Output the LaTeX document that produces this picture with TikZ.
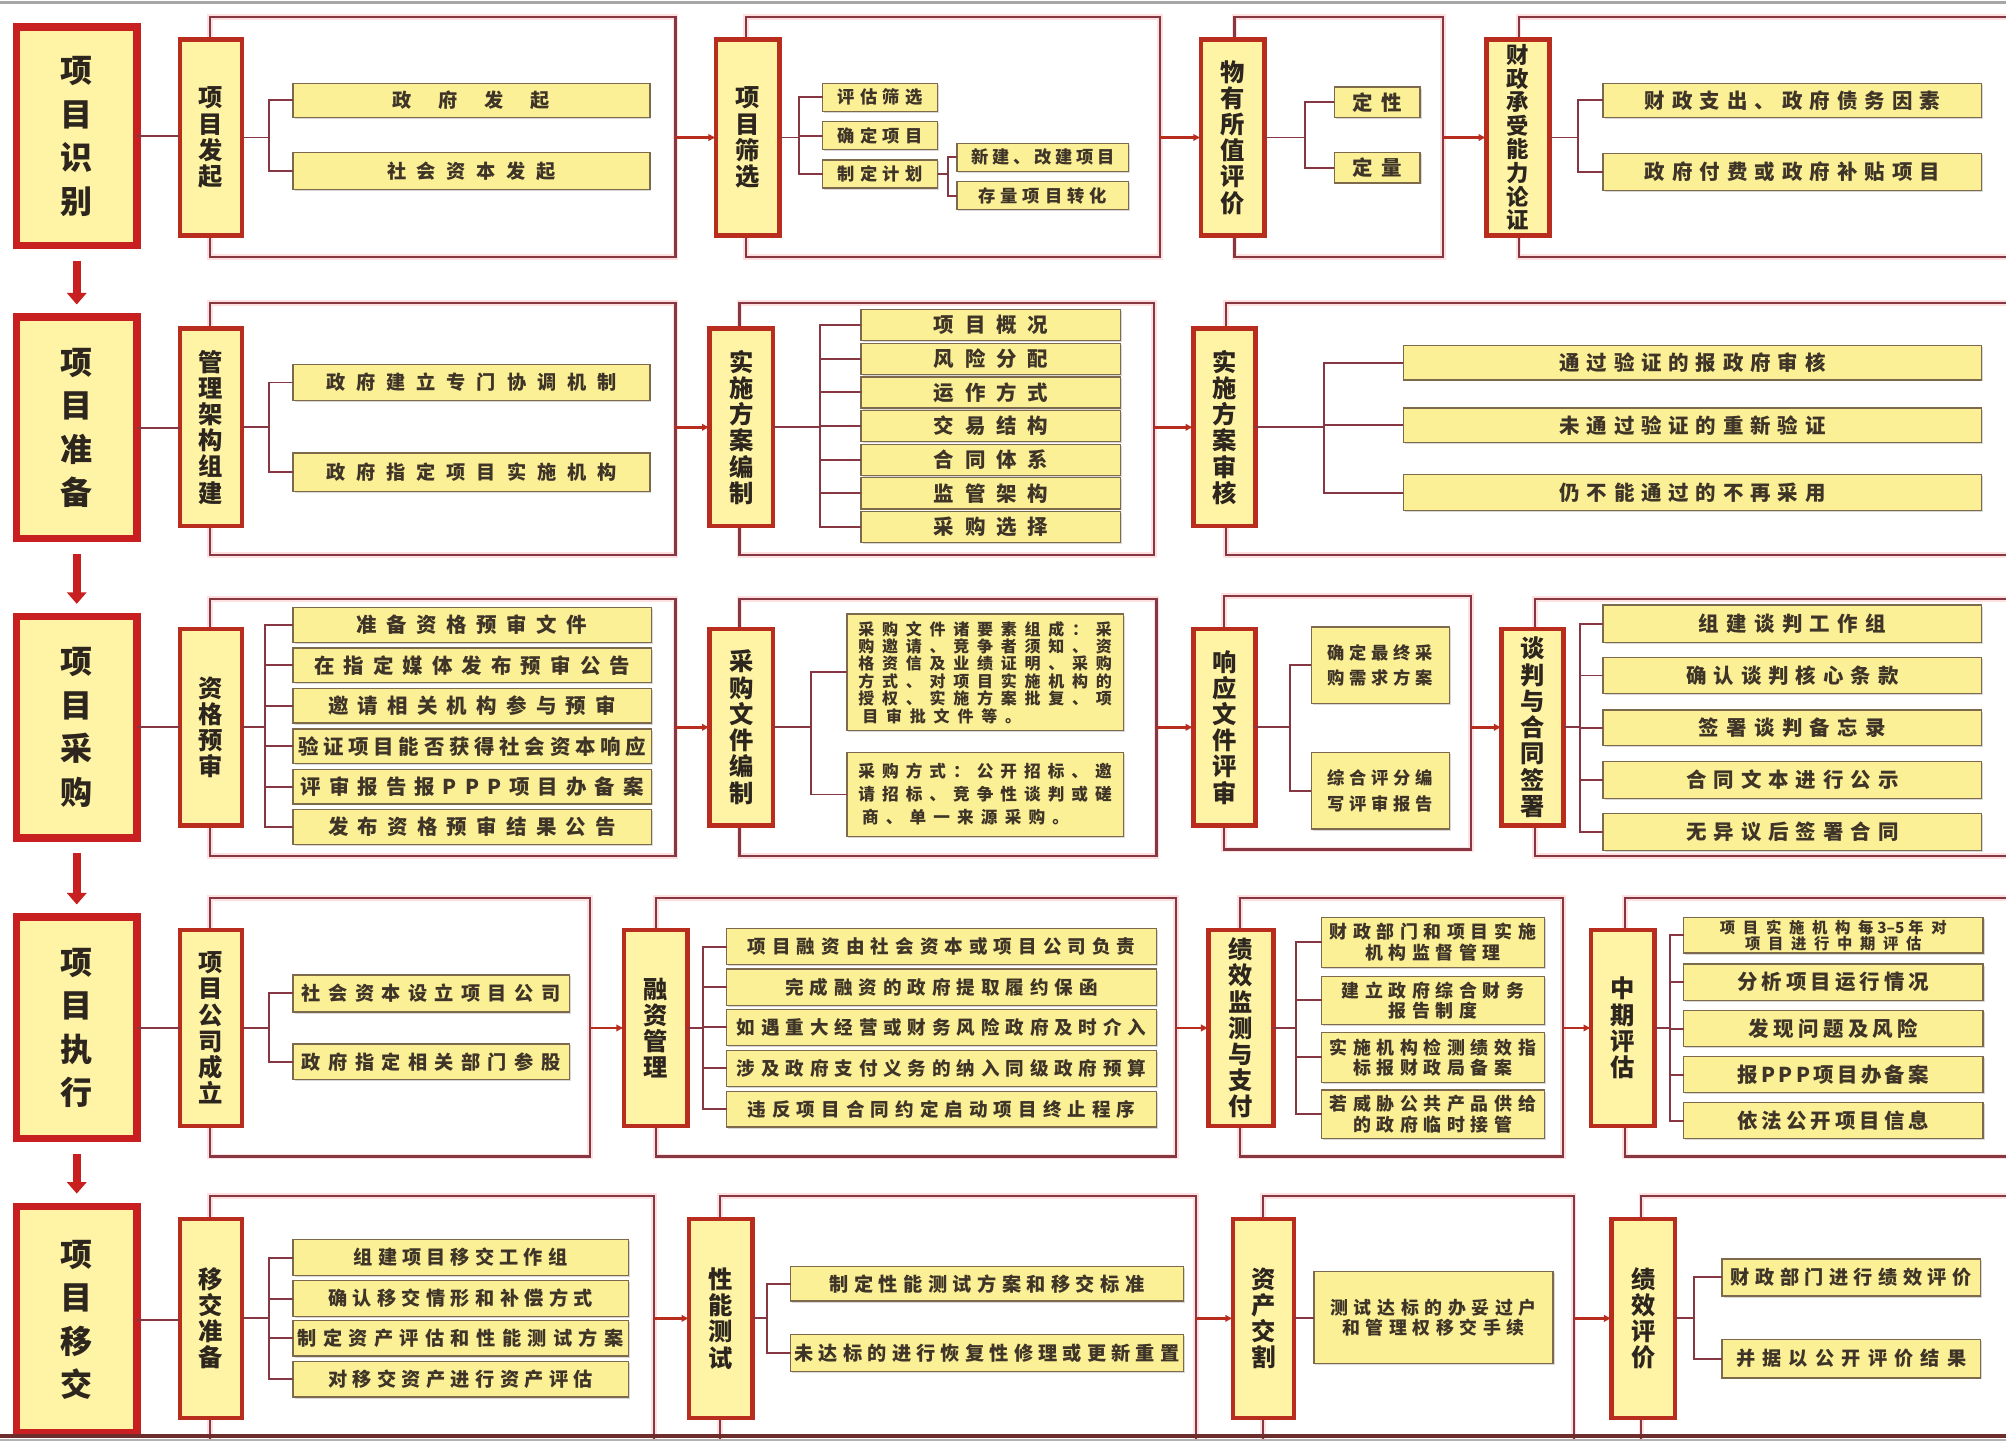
\documentclass[tikz,border=0pt]{standalone}
\usepackage{fontspec}
\setmainfont{Noto Sans CJK SC}
\usetikzlibrary{arrows.meta,shadows}
\definecolor{yel}{RGB}{255,244,165}
\definecolor{leafyel}{RGB}{252,240,150}
\definecolor{mred}{RGB}{200,32,32}
\definecolor{sred}{RGB}{185,45,30}
\definecolor{frm}{RGB}{135,55,65}
\definecolor{leafln}{RGB}{125,105,75}
\definecolor{txt}{RGB}{45,38,30}
\definecolor{ltxt}{RGB}{62,52,40}
\definecolor{botln}{RGB}{110,45,45}
\makeatletter
\def\spreadit#1#2{\hbox to #1{\spread@aux#2\relax}}
\def\spread@aux#1#2{#1\ifx#2\relax\else\hfil\expandafter\spread@aux\expandafter#2\fi}
\def\lsp#1#2{\def\lsp@w{#1}\lsp@aux#2\relax}
\def\lsp@aux#1{\ifx#1\relax\else\makebox[\lsp@w]{#1}\expandafter\lsp@aux\fi}
\makeatother
\newcommand\Bx[6]{\node[#1, minimum width={(#4)-(#2)}, minimum height={(#5)-(#3)}] (#6) at ({((#2)+(#4))/2},{((#3)+(#5))/2})}
\tikzset{
 mainbox/.style={draw=mred, line width=6pt, fill=yel, inner sep=0pt, outer sep=0pt, align=center, text=txt, font=\fontsize{25}{34}\selectfont\bfseries},
 subbox/.style={draw=sred, line width=3.5pt, fill=yel, inner sep=0pt, outer sep=0pt, align=center, text=txt, font=\fontsize{19}{20.5}\selectfont\bfseries},
 leaf/.style={draw=leafln, line width=1pt, fill=leafyel, inner sep=0pt, outer sep=0pt, align=center, text=ltxt, font=\fontsize{15}{16}\selectfont\bfseries, drop shadow={shadow xshift=1.2pt, shadow yshift=-1.2pt, fill=black!30}},
 frame/.style={draw=frm, line width=1.7pt, preaction={draw=red!12, line width=4.5pt}},
 conn/.style={draw=frm, line width=1.5pt},
 flow/.style={draw=sred, line width=2pt, -{Latex[length=6pt,width=6pt]}},
 down/.style={draw=mred, line width=6pt, -{Triangle[length=9pt,width=15pt]}},
}
\begin{document}
\begin{tikzpicture}[x=1pt,y=-1pt]
\useasboundingbox (0,0) rectangle (1568,1126);
\clip (0,0) rectangle (1568,1126);
\fill[white] (0,0) rectangle (1568,1126);
\draw[gray!70, line width=2pt] (0,2) -- (1568,2);
% ---------- frames ----------
\draw[frame] (164,13.5) rectangle (528,201);
\draw[frame] (583,13.5) rectangle (907,201);
\draw[frame] (965,13.5) rectangle (1128,201);
\draw[frame] (1187,13.5) rectangle (1590,201);
\draw[frame] (164,237) rectangle (528,434);
\draw[frame] (578,237) rectangle (902,434);
\draw[frame] (958,237) rectangle (1590,434);
\draw[frame] (164,468) rectangle (528,669);
\draw[frame] (578,468) rectangle (904,669);
\draw[frame] (957,466) rectangle (1150,664);
\draw[frame] (1200,468) rectangle (1590,669);
\draw[frame] (164,702) rectangle (461,904);
\draw[frame] (513,702) rectangle (919,904);
\draw[frame] (969,702) rectangle (1222,904);
\draw[frame] (1270,702) rectangle (1590,904);
\draw[frame] (164,935) rectangle (511,1130);
\draw[frame] (563,935) rectangle (935,1130);
\draw[frame] (987,935) rectangle (1230,1130);
\draw[frame] (1283,935) rectangle (1590,1130);
% ---------- main boxes ----------
\Bx{mainbox}{13}{21}{107}{192}{m1} {项\\目\\识\\别};
\Bx{mainbox}{13}{248}{107}{421}{m2} {项\\目\\准\\备};
\Bx{mainbox}{13}{482}{107}{655}{m3} {项\\目\\采\\购};
\Bx{mainbox}{13}{717}{107}{890}{m4} {项\\目\\执\\行};
\Bx{mainbox}{13}{943}{107}{1120}{m5} {项\\目\\移\\交};
\draw[down] ([yshift=-12pt]m1.south) -- ([yshift=10pt]m2.north);
\draw[down] ([yshift=-12pt]m2.south) -- ([yshift=10pt]m3.north);
\draw[down] ([yshift=-12pt]m3.south) -- ([yshift=10pt]m4.north);
\draw[down] ([yshift=-12pt]m4.south) -- ([yshift=10pt]m5.north);
% ---------- row 1 ----------
\Bx{subbox}{140.75}{30.75}{189.25}{184.25}{s11} {项\\目\\发\\起};
\Bx{subbox}{559.75}{30.75}{609.25}{184.25}{s12} {项\\目\\筛\\选};
\Bx{subbox}{938.75}{30.75}{988.25}{184.25}{s13} {物\\有\\所\\值\\评\\价};
\Bx{subbox, font=\fontsize{17.5}{18.4}\selectfont\bfseries}{1161.75}{30.75}{1211.25}{184.25}{s14} {财\\政\\承\\受\\能\\力\\论\\证};
\Bx{leaf}{229}{65}{508}{92}{l11a} {\spreadit{123pt}{政府发起}};
\Bx{leaf}{229}{119}{508}{148}{l11b} {\spreadit{132pt}{社会资本发起}};
\Bx{leaf, font=\fontsize{13.5}{15}\selectfont\bfseries}{643}{65}{733}{87}{l12a} {\spreadit{66pt}{评估筛选}};
\Bx{leaf, font=\fontsize{13.5}{15}\selectfont\bfseries}{643}{95}{733}{117}{l12b} {\spreadit{66pt}{确定项目}};
\Bx{leaf, font=\fontsize{13.5}{15}\selectfont\bfseries}{643}{125}{733}{147}{l12c} {\spreadit{66pt}{制定计划}};
\Bx{leaf, font=\fontsize{13.5}{15}\selectfont\bfseries}{748}{112}{882}{134}{l12d} {\spreadit{112pt}{新建、改建项目}};
\Bx{leaf, font=\fontsize{13.5}{15}\selectfont\bfseries}{748}{142}{882}{164}{l12e} {\spreadit{100pt}{存量项目转化}};
\Bx{leaf, font=\fontsize{16}{17}\selectfont\bfseries}{1043}{68}{1110}{92}{l13a} {\spreadit{38pt}{定性}};
\Bx{leaf, font=\fontsize{16}{17}\selectfont\bfseries}{1043}{119}{1110}{143}{l13b} {\spreadit{38pt}{定量}};
\Bx{leaf, font=\fontsize{16}{17}\selectfont\bfseries}{1253}{65}{1549}{92}{l14a} {\spreadit{231pt}{财政支出、政府债务因素}};
\Bx{leaf, font=\fontsize{16}{17}\selectfont\bfseries}{1253}{120}{1549}{149}{l14b} {\spreadit{231pt}{政府付费或政府补贴项目}};
\coordinate (f11) at (528,107.5);
\coordinate (f12) at (907,107.5);
\coordinate (f13) at (1128,107.5);
\draw[conn] (m1.east) -- (m1.east -| s11.west);
\draw[flow] (f11) -- (s12.west);
\draw[flow] (f12) -- (s13.west);
\draw[flow] (f13) -- (s14.west);
\draw[conn] (s11.east) -- ++(21,0) coordinate (t11);
\draw[conn] (t11) |- (l11a.west) (t11) |- (l11b.west);
\draw[conn] (s12.east) -- ++(15,0) coordinate (t12);
\draw[conn] (t12) |- (l12a.west) (t12) |- (l12b.west) (t12) |- (l12c.west);
\draw[conn] (l12c.east) -- ++(8,0) coordinate (t12b);
\draw[conn] (t12b) |- (l12d.west) (t12b) |- (l12e.west);
\draw[conn] (s13.east) -- ++(32,0) coordinate (t13);
\draw[conn] (t13) |- (l13a.west) (t13) |- (l13b.west);
\draw[conn] (s14.east) -- ++(22,0) coordinate (t14);
\draw[conn] (t14) |- (l14a.west) (t14) |- (l14b.west);
% ---------- row 2 ----------
\Bx{subbox}{140.75}{256.75}{189.25}{411.25}{s21} {管\\理\\架\\构\\组\\建};
\Bx{subbox}{554.75}{256.75}{604.25}{411.25}{s22} {实\\施\\方\\案\\编\\制};
\Bx{subbox}{932.75}{256.75}{981.25}{411.25}{s23} {实\\施\\方\\案\\审\\核};
\Bx{leaf}{229}{285}{508}{313}{l21a} {\spreadit{227pt}{政府建立专门协调机制}};
\Bx{leaf}{229}{354}{508}{384}{l21b} {\spreadit{227pt}{政府指定项目实施机构}};
\Bx{leaf, font=\fontsize{16}{17}\selectfont\bfseries}{673}{242}{876}{266.3}{l22a} {\spreadit{89pt}{项目概况}};
\Bx{leaf, font=\fontsize{16}{17}\selectfont\bfseries}{673}{268.3}{876}{292.6}{l22b} {\spreadit{89pt}{风险分配}};
\Bx{leaf, font=\fontsize{16}{17}\selectfont\bfseries}{673}{294.6}{876}{318.9}{l22c} {\spreadit{89pt}{运作方式}};
\Bx{leaf, font=\fontsize{16}{17}\selectfont\bfseries}{673}{320.9}{876}{345.2}{l22d} {\spreadit{89pt}{交易结构}};
\Bx{leaf, font=\fontsize{16}{17}\selectfont\bfseries}{673}{347.2}{876}{371.5}{l22e} {\spreadit{89pt}{合同体系}};
\Bx{leaf, font=\fontsize{16}{17}\selectfont\bfseries}{673}{373.5}{876}{397.8}{l22f} {\spreadit{89pt}{监管架构}};
\Bx{leaf, font=\fontsize{16}{17}\selectfont\bfseries}{673}{399.8}{876}{424.1}{l22g} {\spreadit{89pt}{采购选择}};
\Bx{leaf, font=\fontsize{16}{17}\selectfont\bfseries}{1097}{270}{1549}{297}{l23a} {\spreadit{208pt}{通过验证的报政府审核}};
\Bx{leaf, font=\fontsize{16}{17}\selectfont\bfseries}{1097}{319}{1549}{346}{l23b} {\spreadit{208pt}{未通过验证的重新验证}};
\Bx{leaf, font=\fontsize{16}{17}\selectfont\bfseries}{1097}{371}{1549}{399}{l23c} {\spreadit{208pt}{仍不能通过的不再采用}};
\coordinate (f21) at (528,334);
\coordinate (f22) at (902,334);
\draw[conn] (m2.east) -- (m2.east -| s21.west);
\draw[flow] (f21) -- (s22.west);
\draw[flow] (f22) -- (s23.west);
\draw[conn] (s21.east) -- ++(21,0) coordinate (t21);
\draw[conn] (t21) |- (l21a.west) (t21) |- (l21b.west);
\draw[conn] (s22.east) -- ++(37,0) coordinate (t22);
\draw[conn] (t22) |- (l22a.west) (t22) |- (l22b.west) (t22) |- (l22c.west) (t22) |- (l22d.west) (t22) |- (l22e.west) (t22) |- (l22f.west) (t22) |- (l22g.west);
\draw[conn] (s23.east) -- ++(54,0) coordinate (t23);
\draw[conn] (t23) |- (l23a.west) (t23) |- (l23b.west) (t23) |- (l23c.west);
% ---------- row 3 ----------
\Bx{subbox}{140.75}{491.75}{189.25}{645.25}{s31} {资\\格\\预\\审};
\Bx{subbox}{554.75}{491.75}{604.25}{645.25}{s32} {采\\购\\文\\件\\编\\制};
\Bx{subbox}{932.75}{491.75}{981.25}{645.25}{s33} {响\\应\\文\\件\\评\\审};
\Bx{subbox}{1173.75}{491.75}{1222.25}{645.25}{s34} {谈\\判\\与\\合\\同\\签\\署};
\Bx{leaf, font=\fontsize{16}{17}\selectfont\bfseries}{229}{475}{509}{502}{l31a} {\spreadit{180pt}{准备资格预审文件}};
\Bx{leaf, font=\fontsize{16}{17}\selectfont\bfseries}{229}{506.6}{509}{533.6}{l31b} {\spreadit{247pt}{在指定媒体发布预审公告}};
\Bx{leaf, font=\fontsize{16}{17}\selectfont\bfseries}{229}{538.2}{509}{565.2}{l31c} {\spreadit{225pt}{邀请相关机构参与预审}};
\Bx{leaf, font=\fontsize{16}{17}\selectfont\bfseries}{229}{569.8}{509}{596.8}{l31d} {\spreadit{272pt}{验证项目能否获得社会资本响应}};
\Bx{leaf, font=\fontsize{16}{17}\selectfont\bfseries}{229}{601.4}{509}{628.4}{l31e} {\spreadit{268pt}{评审报告报PPP项目办备案}};
\Bx{leaf, font=\fontsize{16}{17}\selectfont\bfseries}{229}{633}{509}{660}{l31f} {\spreadit{225pt}{发布资格预审结果公告}};
\Bx{leaf, font=\fontsize{12.5}{13.6}\selectfont\bfseries}{662}{480}{878}{571}{l32a} {\spreadit{198pt}{采购文件诸要素组成：采}\\\spreadit{198pt}{购邀请、竞争者须知、资}\\\spreadit{198pt}{格资信及业绩证明、采购}\\\spreadit{198pt}{方式、对项目实施机构的}\\\spreadit{198pt}{授权、实施方案批复、项}\\\makebox[198pt][l]{\lsp{18.6pt}{目审批文件等。}}};
\Bx{leaf, font=\fontsize{13}{18}\selectfont\bfseries}{662}{588}{878}{654}{l32b} {\spreadit{198pt}{采购方式：公开招标、邀}\\\spreadit{198pt}{请招标、竞争性谈判或磋}\\\makebox[198pt][l]{\lsp{18.6pt}{商、单一来源采购。}}};
\Bx{leaf, font=\fontsize{13.5}{20}\selectfont\bfseries}{1025}{490}{1133}{550}{l33a} {\spreadit{82pt}{确定最终采}\\\spreadit{82pt}{购需求方案}};
\Bx{leaf, font=\fontsize{13.5}{20}\selectfont\bfseries}{1025}{588}{1133}{648}{l33b} {\spreadit{82pt}{综合评分编}\\\spreadit{82pt}{写评审报告}};
\Bx{leaf, font=\fontsize{16}{17}\selectfont\bfseries}{1253}{473}{1549}{502}{l34a} {\spreadit{146pt}{组建谈判工作组}};
\Bx{leaf, font=\fontsize{16}{17}\selectfont\bfseries}{1253}{514}{1549}{542}{l34b} {\spreadit{166pt}{确认谈判核心条款}};
\Bx{leaf, font=\fontsize{16}{17}\selectfont\bfseries}{1253}{555}{1549}{583}{l34c} {\spreadit{146pt}{签署谈判备忘录}};
\Bx{leaf, font=\fontsize{16}{17}\selectfont\bfseries}{1253}{595}{1549}{624}{l34d} {\spreadit{166pt}{合同文本进行公示}};
\Bx{leaf, font=\fontsize{16}{17}\selectfont\bfseries}{1253}{636}{1549}{665}{l34e} {\spreadit{166pt}{无异议后签署合同}};
\coordinate (f31) at (528,568.5);
\coordinate (f32) at (904,568.5);
\coordinate (f33) at (1150,568.5);
\draw[conn] (m3.east) -- (m3.east -| s31.west);
\draw[flow] (f31) -- (s32.west);
\draw[flow] (f32) -- (s33.west);
\draw[flow] (f33) -- (s34.west);
\draw[conn] (s31.east) -- ++(18,0) coordinate (t31);
\draw[conn] (t31) |- (l31a.west) (t31) |- (l31b.west) (t31) |- (l31c.west) (t31) |- (l31d.west) (t31) |- (l31e.west) (t31) |- (l31f.west);
\draw[conn] (s32.east) -- ++(30,0) coordinate (t32);
\draw[conn] (t32) |- (l32a.west) (t32) |- (l32b.west);
\draw[conn] (s33.east) -- ++(27,0) coordinate (t33);
\draw[conn] (t33) |- (l33a.west) (t33) |- (l33b.west);
\draw[conn] (s34.east) -- ++(13,0) coordinate (t34);
\draw[conn] (t34) |- (l34a.west) (t34) |- (l34b.west) (t34) |- (l34c.west) (t34) |- (l34d.west) (t34) |- (l34e.west);
% ---------- row 4 ----------
\Bx{subbox}{140.75}{726.75}{189.25}{880.25}{s41} {项\\目\\公\\司\\成\\立};
\Bx{subbox}{487.75}{726.75}{537.25}{880.25}{s42} {融\\资\\管\\理};
\Bx{subbox}{944.75}{726.75}{995.25}{880.25}{s43} {绩\\效\\监\\测\\与\\支\\付};
\Bx{subbox}{1243.75}{726.75}{1293.25}{880.25}{s44} {中\\期\\评\\估};
\Bx{leaf}{229}{762}{445}{791}{l41a} {\spreadit{202pt}{社会资本设立项目公司}};
\Bx{leaf}{229}{816}{445}{844}{l41b} {\spreadit{202pt}{政府指定相关部门参股}};
\Bx{leaf, font=\fontsize{14.5}{16}\selectfont\bfseries}{568}{726}{904}{754}{l42a} {\spreadit{303pt}{项目融资由社会资本或项目公司负责}};
\Bx{leaf, font=\fontsize{14.5}{16}\selectfont\bfseries}{568}{757.5}{904}{786}{l42b} {\spreadit{244pt}{完成融资的政府提取履约保函}};
\Bx{leaf, font=\fontsize{14.5}{16}\selectfont\bfseries}{568}{789}{904}{817}{l42c} {\spreadit{320pt}{如遇重大经营或财务风险政府及时介入}};
\Bx{leaf, font=\fontsize{14.5}{16}\selectfont\bfseries}{568}{821}{904}{849}{l42d} {\spreadit{320pt}{涉及政府支付义务的纳入同级政府预算}};
\Bx{leaf, font=\fontsize{14.5}{16}\selectfont\bfseries}{568}{853}{904}{881}{l42e} {\spreadit{303pt}{违反项目合同约定启动项目终止程序}};
\Bx{leaf, font=\fontsize{14}{16}\selectfont\bfseries}{1033}{717}{1207}{756}{l43a} {\lsp{18.4pt}{财政部门和项目实施}\\\lsp{18.4pt}{机构监督管理}};
\Bx{leaf, font=\fontsize{14}{16}\selectfont\bfseries}{1033}{763}{1207}{801}{l43b} {\lsp{18.4pt}{建立政府综合财务}\\\lsp{18.4pt}{报告制度}};
\Bx{leaf, font=\fontsize{14}{16}\selectfont\bfseries}{1033}{807}{1207}{846}{l43c} {\lsp{18.4pt}{实施机构检测绩效指}\\\lsp{18.4pt}{标报财政局备案}};
\Bx{leaf, font=\fontsize{14}{16}\selectfont\bfseries}{1033}{852}{1207}{890}{l43d} {\lsp{18.4pt}{若威胁公共产品供给}\\\lsp{18.4pt}{的政府临时接管}};
\Bx{leaf, font=\fontsize{12}{12.5}\selectfont\bfseries}{1316}{717}{1550}{745}{l44a} {\lsp{18pt}{项目实施机构每}3–5\lsp{18pt}{年对}\\\lsp{18pt}{项目进行中期评估}};
\Bx{leaf, font=\fontsize{16}{17}\selectfont\bfseries}{1316}{753.5}{1550}{782}{l44b} {\spreadit{150pt}{分析项目运行情况}};
\Bx{leaf, font=\fontsize{16}{17}\selectfont\bfseries}{1316}{790}{1550}{818}{l44c} {\spreadit{133pt}{发现问题及风险}};
\Bx{leaf, font=\fontsize{16}{17}\selectfont\bfseries}{1316}{826}{1550}{854}{l44d} {\spreadit{150pt}{报PPP项目办备案}};
\Bx{leaf, font=\fontsize{16}{17}\selectfont\bfseries}{1316}{862}{1550}{890}{l44e} {\spreadit{150pt}{依法公开项目信息}};
\coordinate (f41) at (461,803.5);
\coordinate (f42) at (919,803.5);
\coordinate (f43) at (1222,803.5);
\draw[conn] (m4.east) -- (m4.east -| s41.west);
\draw[flow] (f41) -- (s42.west);
\draw[flow] (f42) -- (s43.west);
\draw[flow] (f43) -- (s44.west);
\draw[conn] (s41.east) -- ++(21,0) coordinate (t41);
\draw[conn] (t41) |- (l41a.west) (t41) |- (l41b.west);
\draw[conn] (s42.east) -- ++(12,0) coordinate (t42);
\draw[conn] (t42) |- (l42a.west) (t42) |- (l42b.west) (t42) |- (l42c.west) (t42) |- (l42d.west) (t42) |- (l42e.west);
\draw[conn] (s43.east) -- ++(18,0) coordinate (t43);
\draw[conn] (t43) |- (l43a.west) (t43) |- (l43b.west) (t43) |- (l43c.west) (t43) |- (l43d.west);
\draw[conn] (s44.east) -- ++(12,0) coordinate (t44);
\draw[conn] (t44) |- (l44a.west) (t44) |- (l44b.west) (t44) |- (l44c.west) (t44) |- (l44d.west) (t44) |- (l44e.west);
% ---------- row 5 ----------
\Bx{subbox}{140.75}{952.75}{189.25}{1108.25}{s51} {移\\交\\准\\备};
\Bx{subbox}{538.75}{952.75}{588.25}{1108.25}{s52} {性\\能\\测\\试};
\Bx{subbox}{963.75}{952.75}{1011.25}{1108.25}{s53} {资\\产\\交\\割};
\Bx{subbox}{1259.75}{952.75}{1309.25}{1108.25}{s54} {绩\\效\\评\\价};
\Bx{leaf}{229}{969}{491}{997}{l51a} {\spreadit{167pt}{组建项目移交工作组}};
\Bx{leaf}{229}{1001}{491}{1029}{l51b} {\spreadit{207pt}{确认移交情形和补偿方式}};
\Bx{leaf}{229}{1032}{491}{1060}{l51c} {\spreadit{255pt}{制定资产评估和性能测试方案}};
\Bx{leaf}{229}{1064}{491}{1092}{l51d} {\spreadit{207pt}{对移交资产进行资产评估}};
\Bx{leaf}{618}{990}{925}{1017}{l52a} {\spreadit{246pt}{制定性能测试方案和移交标准}};
\Bx{leaf}{618}{1043}{925}{1072}{l52b} {\spreadit{301pt}{未达标的进行恢复性修理或更新重置}};
\Bx{leaf, font=\fontsize{14}{15.5}\selectfont\bfseries}{1027}{994}{1214}{1066}{l53} {\lsp{18.4pt}{测试达标的办妥过户}\\\lsp{18.4pt}{和管理权移交手续}};
\Bx{leaf, font=\fontsize{15}{17}\selectfont\bfseries}{1346}{984}{1548}{1013}{l54a} {\spreadit{188pt}{财政部门进行绩效评价}};
\Bx{leaf, font=\fontsize{15}{17}\selectfont\bfseries}{1346}{1047}{1548}{1077}{l54b} {\spreadit{180pt}{并据以公开评价结果}};
\coordinate (f51) at (511,1030.5);
\coordinate (f52) at (935,1030.5);
\coordinate (f53) at (1230,1030.5);
\draw[conn] (m5.east) -- (m5.east -| s51.west);
\draw[flow] (f51) -- (s52.west);
\draw[flow] (f52) -- (s53.west);
\draw[flow] (f53) -- (s54.west);
\draw[conn] (s51.east) -- ++(21,0) coordinate (t51);
\draw[conn] (t51) |- (l51a.west) (t51) |- (l51b.west) (t51) |- (l51c.west) (t51) |- (l51d.west);
\draw[conn] (s52.east) -- ++(11,0) coordinate (t52);
\draw[conn] (t52) |- (l52a.west) (t52) |- (l52b.west);
\draw[conn] (s53.east) -- (s53.east -| l53.west);
\draw[conn] (s54.east) -- ++(15,0) coordinate (t54);
\draw[conn] (t54) |- (l54a.west) (t54) |- (l54b.west);
% ---------- bottom line ----------
\draw[gray!60, line width=2pt] (0,1125.5) -- (1568,1125.5);
\draw[botln, line width=3pt] (0,1122.5) -- (1568,1122.5);
\end{tikzpicture}
\end{document}
